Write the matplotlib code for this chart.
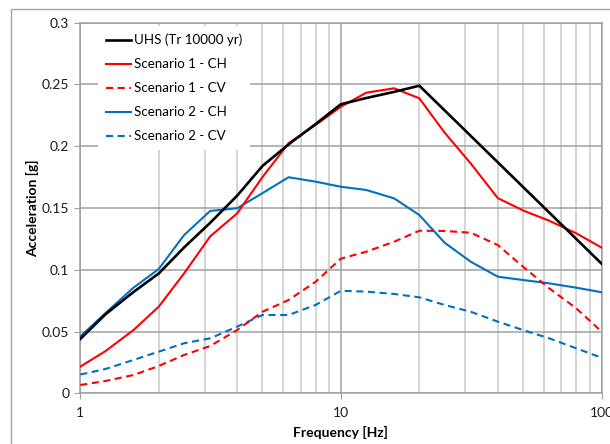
import matplotlib
matplotlib.use("Agg")
import matplotlib.pyplot as plt
from matplotlib.ticker import FixedLocator, FixedFormatter, NullFormatter
from matplotlib.patches import Rectangle

plt.rcParams['font.family'] = ['Lato', 'DejaVu Sans']

# ---- data ----
freq_uhs = [1, 1.25, 1.6, 2, 2.5, 3.15, 4, 5, 6.3, 8, 10, 12.5, 16, 20, 100]
uhs = [0.044, 0.064, 0.082, 0.097, 0.118, 0.138, 0.160, 0.184, 0.2015, 0.218,
       0.234, 0.239, 0.244, 0.249, 0.105]

freq = [1, 1.25, 1.6, 2, 2.5, 3.15, 4, 5, 6.3, 8, 10, 12.5, 16, 20, 25, 31.5,
        40, 50, 63, 80, 100]
s1_ch = [0.0216, 0.0342, 0.0512, 0.0701, 0.097, 0.127, 0.1457, 0.175, 0.2024,
         0.2172, 0.232, 0.2433, 0.2469, 0.2388, 0.2110, 0.186, 0.158, 0.148,
         0.1397, 0.1295, 0.118]
s1_cv = [0.0067, 0.0100, 0.0148, 0.0221, 0.031, 0.0383, 0.0512, 0.066, 0.0755,
         0.0903, 0.1090, 0.1146, 0.1227, 0.1316, 0.1314, 0.130, 0.120, 0.1025,
         0.085, 0.0688, 0.050]
s2_ch = [0.046, 0.065, 0.0855, 0.1006, 0.128, 0.1476, 0.1498, 0.162, 0.1749,
         0.1713, 0.1672, 0.1646, 0.1578, 0.1443, 0.1219, 0.1065, 0.0944,
         0.0917, 0.089, 0.0855, 0.0818]
s2_cv = [0.0152, 0.0197, 0.027, 0.0337, 0.0405, 0.0445, 0.054, 0.0634, 0.0634,
         0.0715, 0.083, 0.0823, 0.0804, 0.0777, 0.0715, 0.066, 0.058, 0.0512,
         0.0445, 0.0364, 0.0288]

labels = ["UHS (Tr 10000 yr)", "Scenario 1 - CH", "Scenario 1 - CV",
          "Scenario 2 - CH", "Scenario 2 - CV"]
yticks = [0, 0.05, 0.1, 0.15, 0.2, 0.25, 0.3]
ytick_labels = ["0", "0.05", "0.1", "0.15", "0.2", "0.25", "0.3"]
xticks = [1, 10, 100]
xtick_labels = ["1", "10", "100"]

RED = "#FF0000"
BLUE = "#0070C0"

fig = plt.figure(figsize=(6.10, 4.44), dpi=100)
# outer chart border (cropped at right/bottom)
fig.patches.append(Rectangle((11 / 610, -0.1), 1.2, (444 - 9.5) / 444 + 0.1,
                             transform=fig.transFigure, fill=False,
                             edgecolor="#a6a6a6", linewidth=1.0))

ax = fig.add_axes([80.3 / 610, 50.7 / 444, (601.5 - 80.3) / 610, (393.3 - 22.7) / 444])
ax.set_xscale("log")
ax.set_xlim(1, 100)
ax.set_ylim(0, 0.3)

ax.plot(freq_uhs, uhs, color="black", lw=1.9, label=labels[0], zorder=5)
ax.plot(freq, s1_ch, color=RED, lw=1.5, label=labels[1], zorder=4)
ax.plot(freq, s1_cv, color=RED, lw=1.5, dashes=(3.4, 2.2), label=labels[2], zorder=4)
ax.plot(freq, s2_ch, color=BLUE, lw=1.5, label=labels[3], zorder=3)
ax.plot(freq, s2_cv, color=BLUE, lw=1.5, dashes=(3.4, 2.2), label=labels[4], zorder=3)

ax.yaxis.set_major_locator(FixedLocator(yticks))
ax.yaxis.set_major_formatter(FixedFormatter(ytick_labels))
ax.xaxis.set_major_locator(FixedLocator(xticks))
ax.xaxis.set_major_formatter(FixedFormatter(xtick_labels))
ax.xaxis.set_minor_formatter(NullFormatter())

ax.grid(True, which="major", axis="both", color="#a0a0a0", lw=1.1)
ax.grid(True, which="minor", axis="x", color="#d4d4d4", lw=1.4)
ax.set_axisbelow(True)

for s in ax.spines.values():
    s.set_color("#a0a0a0")
    s.set_linewidth(1.1)

ax.tick_params(axis="both", which="major", direction="out", length=4,
               color="#a0a0a0", labelsize=10, labelcolor="#1a1a1a", pad=4)
ax.tick_params(axis="x", which="minor", length=0)
ax.tick_params(axis="x", which="major", pad=6)

ax.set_xlabel("Frequency [Hz]", fontsize=10, fontweight="bold", labelpad=5)
ax.set_ylabel("Acceleration [g]", fontsize=10, fontweight="bold", labelpad=2)

leg = ax.legend(loc="upper left", bbox_to_anchor=(0.034, 0.992), frameon=True,
                fancybox=False, fontsize=9.6, handlelength=1.9,
                handletextpad=0.17, labelspacing=0.9, borderpad=0.6,
                borderaxespad=0.0)
leg.get_frame().set_facecolor("white")
leg.get_frame().set_edgecolor("none")
leg.get_frame().set_alpha(1.0)

fig.savefig("out.png", dpi=100)
